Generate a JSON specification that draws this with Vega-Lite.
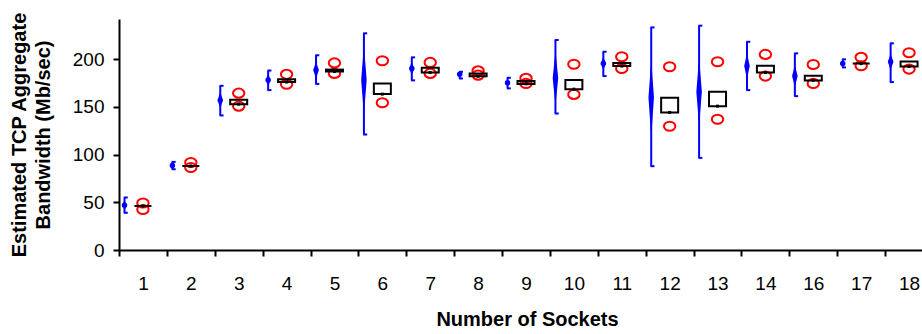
{
  "$schema": "https://vega.github.io/schema/vega-lite/v6.json",
  "autosize": {"type": "none"},
  "padding": {"left": 119, "top": 19, "right": 0, "bottom": 84},
  "width": 803,
  "height": 231,
  "background": "white",
  "view": {"stroke": null},
  "config": {
    "font": "Liberation Sans",
    "axis": {"labelFont": "Liberation Sans", "titleFont": "Liberation Sans", "labelColor": "black", "titleColor": "black", "domainColor": "black", "tickColor": "black", "domainWidth": 2, "tickWidth": 2, "tickSize": 6, "grid": false}
  },
  "data": {
    "values": [
      {"n": "1", "lo": 39, "hi": 55, "dlo": 43, "mean": 46.8, "dhi": 51, "blo": 46, "bhi": 46, "r1": 49.3, "r2": 42.4},
      {"n": "2", "lo": 84.6, "hi": 92.3, "dlo": 86.5, "mean": 88.6, "dhi": 90.5, "blo": 88, "bhi": 88, "r1": 91.7, "r2": 86.4},
      {"n": "3", "lo": 141, "hi": 172, "dlo": 150, "mean": 157, "dhi": 164, "blo": 152.8, "bhi": 157.5, "r1": 164.3, "r2": 150.7},
      {"n": "4", "lo": 167.5, "hi": 188, "dlo": 173, "mean": 178, "dhi": 183, "blo": 176, "bhi": 179, "r1": 184, "r2": 173.7},
      {"n": "5", "lo": 174, "hi": 204, "dlo": 181, "mean": 188.5, "dhi": 196, "blo": 187, "bhi": 189, "r1": 196, "r2": 185},
      {"n": "6", "lo": 121, "hi": 227, "dlo": 148.3, "mean": 178, "dhi": 207.7, "blo": 163.3, "bhi": 174.5, "r1": 198.2, "r2": 154.2},
      {"n": "7", "lo": 177.7, "hi": 201.8, "dlo": 185, "mean": 190.2, "dhi": 195.5, "blo": 186, "bhi": 190.9, "r1": 196.5, "r2": 185},
      {"n": "8", "lo": 179.7, "hi": 186.7, "dlo": 181.5, "mean": 184, "dhi": 186.5, "blo": 182, "bhi": 185, "r1": 187.7, "r2": 183.2},
      {"n": "9", "lo": 169.3, "hi": 180.4, "dlo": 172.5, "mean": 175.2, "dhi": 178, "blo": 174, "bhi": 177, "r1": 179.8, "r2": 174.5},
      {"n": "10", "lo": 143, "hi": 220, "dlo": 157, "mean": 180, "dhi": 204, "blo": 168.5, "bhi": 178, "r1": 194.6, "r2": 163},
      {"n": "11", "lo": 182.2, "hi": 207.7, "dlo": 190, "mean": 195.5, "dhi": 201, "blo": 192.7, "bhi": 196, "r1": 202.4, "r2": 190.2},
      {"n": "12", "lo": 87.8, "hi": 233.2, "dlo": 125.5, "mean": 159.8, "dhi": 192, "blo": 144.1, "bhi": 159.4, "r1": 192, "r2": 129.7},
      {"n": "13", "lo": 96.5, "hi": 235, "dlo": 136, "mean": 165.7, "dhi": 195.5, "blo": 150.7, "bhi": 165.7, "r1": 197.2, "r2": 137},
      {"n": "14", "lo": 167.5, "hi": 218.1, "dlo": 181.4, "mean": 192.7, "dhi": 204, "blo": 186, "bhi": 193, "r1": 204.9, "r2": 182.2},
      {"n": "16", "lo": 161.2, "hi": 206, "dlo": 172.7, "mean": 182.2, "dhi": 192, "blo": 177.7, "bhi": 182.5, "r1": 194.4, "r2": 174.5},
      {"n": "17", "lo": 191.3, "hi": 199.7, "dlo": 192.8, "mean": 195.5, "dhi": 198.2, "blo": 195.3, "bhi": 195.3, "r1": 201.8, "r2": 193},
      {"n": "18", "lo": 175.9, "hi": 216.5, "dlo": 190.2, "mean": 197.2, "dhi": 204, "blo": 192.3, "bhi": 197.6, "r1": 206.6, "r2": 189.5}
    ]
  },
  "encoding": {
    "x": {
      "field": "n", "type": "ordinal", "sort": null,
      "scale": {"type": "band", "paddingInner": 0, "paddingOuter": 0, "range": [0, 814]},
      "axis": {"title": "Number of Sockets", "labelAngle": 0, "labelFontSize": 19, "labelPadding": 18, "tickBand": "extent", "titleFontSize": 20, "titleFontWeight": "bold", "titlePadding": 16, "titleX": 408}
    }
  },
  "layer": [
    {
      "mark": {"type": "rule", "color": "#0000ff", "strokeWidth": 2},
      "encoding": {
        "x": {"field": "n", "type": "ordinal", "sort": null, "bandPosition": 0.115},
        "y": {
          "field": "lo", "type": "quantitative",
          "scale": {"domain": [0, 242], "nice": false, "zero": false},
          "axis": {"title": ["Estimated TCP Aggregate", "Bandwidth (Mb/sec)"], "values": [0, 50, 100, 150, 200], "labelFontSize": 19, "labelPadding": 9, "titleFontSize": 20, "titleFontWeight": "bold", "titlePadding": 19, "titleLineHeight": 24}
        },
        "y2": {"field": "hi"}
      }
    },
    {
      "transform": [{"fold": ["lo", "hi"], "as": ["capk", "capv"]}],
      "mark": {"type": "point", "shape": "M0,0L1,0", "filled": false, "stroke": "#0000ff", "strokeWidth": 2, "opacity": 1, "size": 64},
      "encoding": {
        "x": {"field": "n", "type": "ordinal", "sort": null, "bandPosition": 0.1},
        "y": {"field": "capv", "type": "quantitative"}
      }
    },
    {
      "transform": [{"fold": ["dlo", "mean", "dhi"], "as": ["dk", "dv"]}],
      "mark": {"type": "trail", "color": "#0000ff"},
      "encoding": {
        "x": {"field": "n", "type": "ordinal", "sort": null, "bandPosition": 0.115},
        "y": {"field": "dv", "type": "quantitative"},
        "size": {"field": "dk", "type": "ordinal", "scale": {"type": "ordinal", "domain": ["dlo", "mean", "dhi"], "range": [0, 5.5, 0]}, "legend": null},
        "detail": {"field": "n"},
        "order": {"field": "dv", "type": "quantitative"}
      }
    },
    {
      "transform": [{"fold": ["r1", "r2"], "as": ["rk", "rv"]}],
      "mark": {"type": "point", "shape": "M-1,0A1,0.8,0,1,1,1,0A1,0.8,0,1,1,-1,0Z", "filled": false, "stroke": "#ff0000", "strokeWidth": 2, "opacity": 1, "size": 130},
      "encoding": {
        "x": {"field": "n", "type": "ordinal", "sort": null},
        "y": {"field": "rv", "type": "quantitative"}
      }
    },
    {
      "mark": {"type": "bar", "width": 17, "fill": "transparent", "stroke": "black", "strokeWidth": 2},
      "encoding": {
        "x": {"field": "n", "type": "ordinal", "sort": null},
        "y": {"field": "blo", "type": "quantitative"},
        "y2": {"field": "bhi"}
      }
    },
    {
      "mark": {"type": "point", "shape": "square", "filled": true, "color": "black", "opacity": 1, "size": 9},
      "encoding": {
        "x": {"field": "n", "type": "ordinal", "sort": null},
        "y": {"field": "blo", "type": "quantitative"}
      }
    }
  ]
}
